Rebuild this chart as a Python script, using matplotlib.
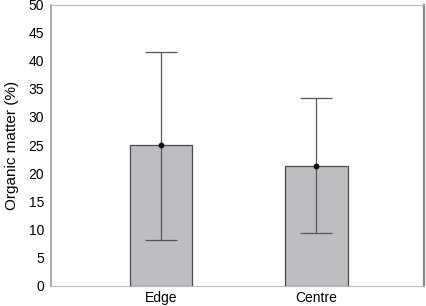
import matplotlib
matplotlib.use("Agg")
import matplotlib.pyplot as plt

categories = ["Edge", "Centre"]
means = [25.0, 21.3]
upper = [41.6, 33.3]
lower = [8.2, 9.4]
yticks = [0, 5, 10, 15, 20, 25, 30, 35, 40, 45, 50]

plt.rcParams['font.family'] = ['Liberation Sans', 'DejaVu Sans']

fig = plt.figure(figsize=(4.26, 3.06), dpi=100)
ax = fig.add_axes([51/426, 20.3/306, (424-51)/426, (285.7-4.5)/306])

x = list(range(len(categories)))
ax.bar(x, means, width=0.4, color='#bdbec1', edgecolor='#4a4a4a', linewidth=0.9, zorder=2)
yerr = [[m - l for m, l in zip(means, lower)], [u - m for m, u in zip(means, upper)]]
ax.errorbar(x, means, yerr=yerr, fmt='o', color='#111111', ms=3.2,
            ecolor='#555555', elinewidth=0.9, capsize=11.5, capthick=0.9, zorder=3)

ax.set_xlim(-0.704, 1.69)
ax.set_ylim(0, 50)
ax.set_yticks(yticks)
ax.set_xticks(x)
ax.set_xticklabels(categories)
ax.tick_params(axis='x', length=0, labelsize=10, pad=4)
ax.tick_params(axis='y', length=0, labelsize=10, pad=5)
ax.set_ylabel('Organic matter (%)', fontsize=11, labelpad=7)

ax.spines['left'].set_color('#999999')
ax.spines['bottom'].set_color('#bbbbbb')
ax.spines['top'].set_color('#bbbbbb')
ax.spines['right'].set_color('#888888')
ax.spines['right'].set_linewidth(1.6)
ax.spines['left'].set_linewidth(1.2)

fig.savefig('out.png', dpi=100)
